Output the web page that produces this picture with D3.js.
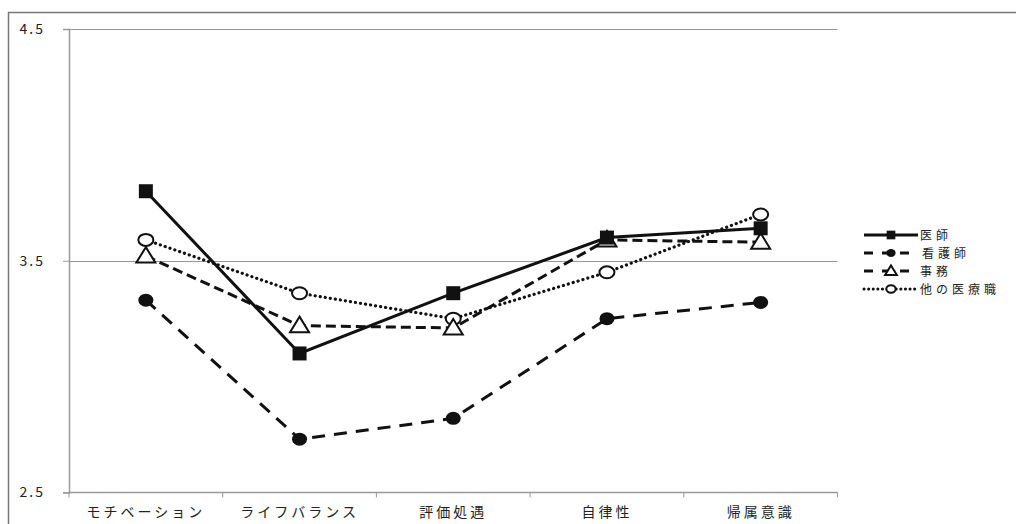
<!DOCTYPE html>
<html>
<head>
<meta charset="utf-8">
<script src="https://cdn.jsdelivr.net/npm/d3@7"></script>
<style>
  html, body { margin: 0; padding: 0; background: #fff; }
  svg { display: block; }
  text { font-family: "Noto Sans CJK JP", "Noto Sans", sans-serif; fill: #222; }
</style>
</head>
<body>
<svg id="chart" width="1016" height="524"></svg>
<script>
// Categories along the x axis
const categories = ["モチベーション", "ライフバランス", "評価処遇", "自律性", "帰属意識"];

// Mean scores by occupation
const doctor = [3.80, 3.10, 3.36, 3.60, 3.64];      // 医師
const nurse = [3.33, 2.73, 2.82, 3.25, 3.32];       // 看護師
const clerical = [3.52, 3.22, 3.21, 3.59, 3.58];    // 事務
const otherMedical = [3.59, 3.36, 3.25, 3.45, 3.70]; // 他の医療職

const seriesNames = ["医師", "看護師", "事務", "他の医療職"];
const yTicks = [2.5, 3.5, 4.5];

const series = [
  { name: seriesNames[0], values: doctor, dash: null, marker: "square" },
  { name: seriesNames[1], values: nurse, dash: "13,9", marker: "dot" },
  { name: seriesNames[2], values: clerical, dash: "10,5", marker: "triangle" },
  { name: seriesNames[3], values: otherMedical, dash: "0.1,5", marker: "circle" }
];

const svg = d3.select("#chart");

// Outer frame
svg.append("path")
  .attr("d", "M8.5,524 L8.5,12.5 L1016,12.5")
  .attr("fill", "none").attr("stroke", "#777").attr("stroke-width", 1.5);

const plot = { left: 69, right: 837.5, top: 29, bottom: 492.5 };

const x = d3.scaleBand().domain(categories).range([plot.left, plot.right]);
const y = d3.scaleLinear().domain([2.5, 4.5]).range([plot.bottom, plot.top]);
const cx = c => x(c) + x.bandwidth() / 2;

// Horizontal gridlines
svg.append("g").selectAll("line").data(yTicks.filter(t => t > 2.5)).join("line")
  .attr("x1", plot.left).attr("x2", plot.right)
  .attr("y1", d => Math.round(y(d)) + 0.5).attr("y2", d => Math.round(y(d)) + 0.5)
  .attr("stroke", "#999").attr("stroke-width", 1.2);

// Y axis
const yAxis = svg.append("g")
  .attr("transform", `translate(${plot.left},0)`)
  .call(d3.axisLeft(y).tickValues(yTicks).tickSize(6).tickPadding(18).tickFormat(d3.format(".1f")));
yAxis.select(".domain").attr("stroke", "#999").attr("stroke-width", 1.5);
yAxis.selectAll(".tick line").attr("stroke", "#999");
yAxis.selectAll(".tick text")
  .style("font-size", "14px").attr("letter-spacing", "2px").attr("fill", "#333");

// X axis with ticks at band edges
const xAxisG = svg.append("g").attr("transform", `translate(0,${plot.bottom})`);
xAxisG.append("line")
  .attr("x1", plot.left).attr("x2", plot.right)
  .attr("stroke", "#999").attr("stroke-width", 1.5);
const edges = categories.map(c => x(c)).concat([plot.right]);
xAxisG.selectAll("line.edge").data(edges).join("line")
  .attr("class", "edge")
  .attr("x1", d => d).attr("x2", d => d).attr("y1", 0).attr("y2", 5)
  .attr("stroke", "#999");
xAxisG.selectAll("text").data(categories).join("text")
  .attr("x", d => cx(d)).attr("y", 24)
  .attr("text-anchor", "middle")
  .attr("letter-spacing", "3px")
  .style("font-size", "14px")
  .text(d => d);

// Marker drawing
function drawMarker(g, type, size) {
  const s = size || 1;
  if (type === "square") {
    g.append("rect").attr("x", -7 * s).attr("y", -7 * s).attr("width", 14 * s).attr("height", 14 * s)
      .attr("fill", "#111");
  } else if (type === "dot") {
    g.append("ellipse").attr("rx", 7.5 * s).attr("ry", 6.5 * s).attr("fill", "#111");
  } else if (type === "triangle") {
    g.append("path")
      .attr("d", `M0,${-9 * s} L${9.5 * s},${6.5 * s} L${-9.5 * s},${6.5 * s} Z`)
      .attr("fill", "#fff").attr("stroke", "#111").attr("stroke-width", 2);
  } else if (type === "circle") {
    g.append("ellipse").attr("rx", 7.5 * s).attr("ry", 6 * s)
      .attr("fill", "#fff").attr("stroke", "#111").attr("stroke-width", 2);
  }
}

const line = d3.line().x((d, i) => cx(categories[i])).y(d => y(d));

// Lines first, then markers on top
series.forEach(s => {
  svg.append("path")
    .datum(s.values)
    .attr("d", line)
    .attr("fill", "none")
    .attr("stroke", "#111")
    .attr("stroke-width", s.marker === "circle" ? 3.2 : 3)
    .attr("stroke-dasharray", s.dash)
    .attr("stroke-linecap", s.marker === "circle" ? "round" : "butt");
});
[series[1], series[3], series[2], series[0]].forEach(s => {
  s.values.forEach((v, i) => {
    const g = svg.append("g").attr("transform", `translate(${cx(categories[i])},${y(v)})`);
    drawMarker(g, s.marker, 1);
  });
});

// Legend
const legend = svg.append("g").attr("transform", "translate(864,0)");
const legendRows = [235, 253, 271, 289];
series.forEach((s, i) => {
  const g = legend.append("g").attr("transform", `translate(0,${legendRows[i]})`);
  g.append("line").attr("x1", 0).attr("x2", 54)
    .attr("stroke", "#111").attr("stroke-width", 3)
    .attr("stroke-dasharray", s.marker === "circle" ? "0.1,4.5" : (s.dash ? "9,9" : null))
    .attr("stroke-linecap", s.marker === "circle" ? "round" : "butt");
  const m = g.append("g").attr("transform", "translate(27,0)");
  drawMarker(m, s.marker, 0.62);
  g.append("text").attr("x", s.marker === "dot" ? 58 : 56).attr("y", 5)
    .attr("letter-spacing", "4px")
    .style("font-size", "12px")
    .text(s.name);
});
</script>
</body>
</html>
